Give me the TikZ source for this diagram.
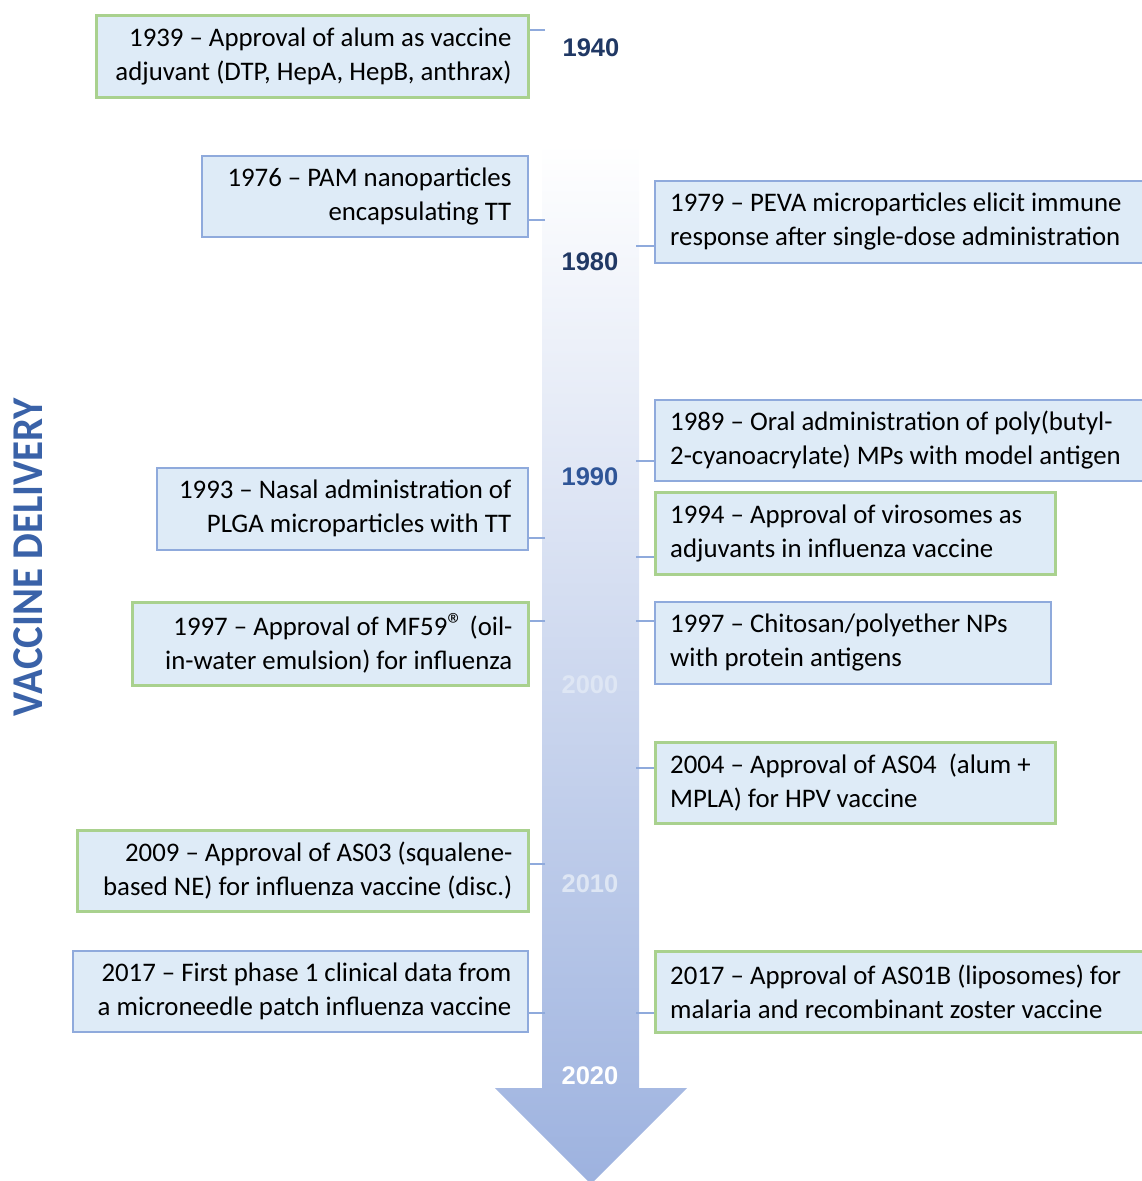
\documentclass[tikz,border=0pt]{standalone}
\usepackage{fontspec}
\setmainfont{Carlito}
\newfontfamily\yearfont{Liberation Sans}
\definecolor{boxfill}{HTML}{DEEBF7}
\definecolor{blueline}{HTML}{8FAADC}
\definecolor{greenline}{HTML}{A9D18E}
\definecolor{arrowbot}{HTML}{9DB2DF}
\definecolor{navy}{HTML}{203864}
\definecolor{midblue}{HTML}{2F5597}
\definecolor{titleblue}{HTML}{3A62A8}
\definecolor{paleyear}{HTML}{DEE6F4}
\newcommand{\regmark}{{\fontsize{32}{32}\selectfont\textregistered}}
\tikzset{
  evbox/.style={fill=boxfill, inner sep=0pt, anchor=north west},
  bluebox/.style={evbox, draw=blueline, line width=1.5pt},
  greenbox/.style={evbox, draw=greenline, line width=2.6pt},
  evtext/.style={inner sep=0pt, font=\fontsize{26.8}{34}\selectfont, text=black},
  lefttext/.style={evtext, align=right, anchor=east},
  righttext/.style={evtext, align=left, anchor=west},
  conn/.style={draw=blueline, line width=1.5pt},
  year/.style={font=\yearfont\bfseries\fontsize{25.5}{30}\selectfont}
}
\begin{document}
\begin{tikzpicture}[x=1pt,y=-1pt]
\useasboundingbox (0,0) rectangle (1142,1181);
% arrow
\path[top color=white, bottom color=arrowbot]
  (542,143) -- (639,143) -- (639,1088) -- (687,1088) -- (591,1184) -- (495,1088) -- (542,1088) -- cycle;
% connector anchor points on the shaft
\coordinate (l1939) at (545,30);
\coordinate (l1976) at (545,220);
\coordinate (r1979) at (636,246);
\coordinate (r1989) at (636,461);
\coordinate (l1993) at (545,538);
\coordinate (r1994) at (636,557);
\coordinate (l1997) at (545,621);
\coordinate (r1997) at (636,621);
\coordinate (r2004) at (636,768);
\coordinate (l2009) at (545,864);
\coordinate (l2017) at (545,1013);
\coordinate (r2017) at (636,1013);
% boxes left
\node[greenbox, minimum width=432, minimum height=82] (b1939) at (95,14) {};
\node[bluebox, minimum width=326, minimum height=81] (b1976) at (201,155) {};
\node[bluebox, minimum width=371, minimum height=82] (b1993) at (156,467) {};
\node[greenbox, minimum width=396, minimum height=83] (b1997L) at (131,601) {};
\node[greenbox, minimum width=451, minimum height=81] (b2009) at (76,829) {};
\node[bluebox, minimum width=455, minimum height=81] (b2017L) at (72,950) {};
% boxes right
\node[bluebox, minimum width=506, minimum height=82] (b1979) at (654,180) {};
\node[bluebox, minimum width=506, minimum height=81] (b1989) at (654,399) {};
\node[greenbox, minimum width=400, minimum height=82] (b1994) at (654,491) {};
\node[bluebox, minimum width=396, minimum height=82] (b1997R) at (654,601) {};
\node[greenbox, minimum width=400, minimum height=81] (b2004) at (654,741) {};
\node[greenbox, minimum width=506, minimum height=81] (b2017R) at (654,950) {};
% texts left
\node[lefttext] (t1939) at ([xshift=-18]b1939.east)
  {1939 -- Approval of alum as vaccine\\adjuvant (DTP, HepA, HepB, anthrax)};
\node[lefttext] (t1976) at ([xshift=-17]b1976.east)
  {1976 -- PAM nanoparticles\\encapsulating TT};
\node[lefttext] (t1993) at ([xshift=-17]b1993.east)
  {1993 -- Nasal administration of\\PLGA microparticles with TT};
\node[lefttext] (t1997L) at ([xshift=-17]b1997L.east)
  {1997 -- Approval of MF59\regmark{} (oil-\\in-water emulsion) for influenza};
\node[lefttext] (t2009) at ([xshift=-17]b2009.east)
  {2009 -- Approval of AS03 (squalene-\\based NE) for influenza vaccine (disc.)};
\node[lefttext] (t2017L) at ([xshift=-17]b2017L.east)
  {2017 -- First phase 1 clinical data from\\a microneedle patch influenza vaccine};
% texts right
\node[righttext] (t1979) at ([xshift=16]b1979.west)
  {1979 -- PEVA microparticles elicit immune\\response after single-dose administration};
\node[righttext] (t1989) at ([xshift=16]b1989.west)
  {1989 -- Oral administration of poly(butyl-\\2-cyanoacrylate) MPs with model antigen};
\node[righttext] (t1994) at ([xshift=16]b1994.west)
  {1994 -- Approval of virosomes as\\adjuvants in influenza vaccine};
\node[righttext] (t1997R) at ([xshift=16]b1997R.west)
  {1997 -- Chitosan/polyether NPs\\with protein antigens};
\node[righttext] (t2004) at ([xshift=16]b2004.west)
  {2004 -- Approval of AS04\ \ (alum +\\MPLA) for HPV vaccine};
\node[righttext] (t2017R) at ([xshift=16]b2017R.west)
  {2017 -- Approval of AS01B (liposomes) for\\malaria and recombinant zoster vaccine};
% connectors
\draw[conn] (l1939) -- (l1939 -| b1939.east);
\draw[conn] (l1976) -- (l1976 -| b1976.east);
\draw[conn] (l1993) -- (l1993 -| b1993.east);
\draw[conn] (l1997) -- (l1997 -| b1997L.east);
\draw[conn] (l2009) -- (l2009 -| b2009.east);
\draw[conn] (l2017) -- (l2017 -| b2017L.east);
\draw[conn] (r1979) -- (r1979 -| b1979.west);
\draw[conn] (r1989) -- (r1989 -| b1989.west);
\draw[conn] (r1994) -- (r1994 -| b1994.west);
\draw[conn] (r1997) -- (r1997 -| b1997R.west);
\draw[conn] (r2004) -- (r2004 -| b2004.west);
\draw[conn] (r2017) -- (r2017 -| b2017R.west);
% years
\node[year, text=navy] (y1940) at (591,48) {1940};
\node[year, text=navy] (y1980) at (590,262) {1980};
\node[year, text=midblue] (y1990) at (590,477) {1990};
\node[year, text=paleyear] (y2000) at (590,685) {2000};
\node[year, text=paleyear] (y2010) at (590,884) {2010};
\node[year, text=white] (y2020) at (590,1076) {2020};
% title
\node[rotate=90, text=titleblue, font=\bfseries\fontsize{44}{50}\selectfont] (title) at (28,557)
  {\scalebox{0.93}[1]{VACCINE DELIVERY}};
\end{tikzpicture}
\end{document}
